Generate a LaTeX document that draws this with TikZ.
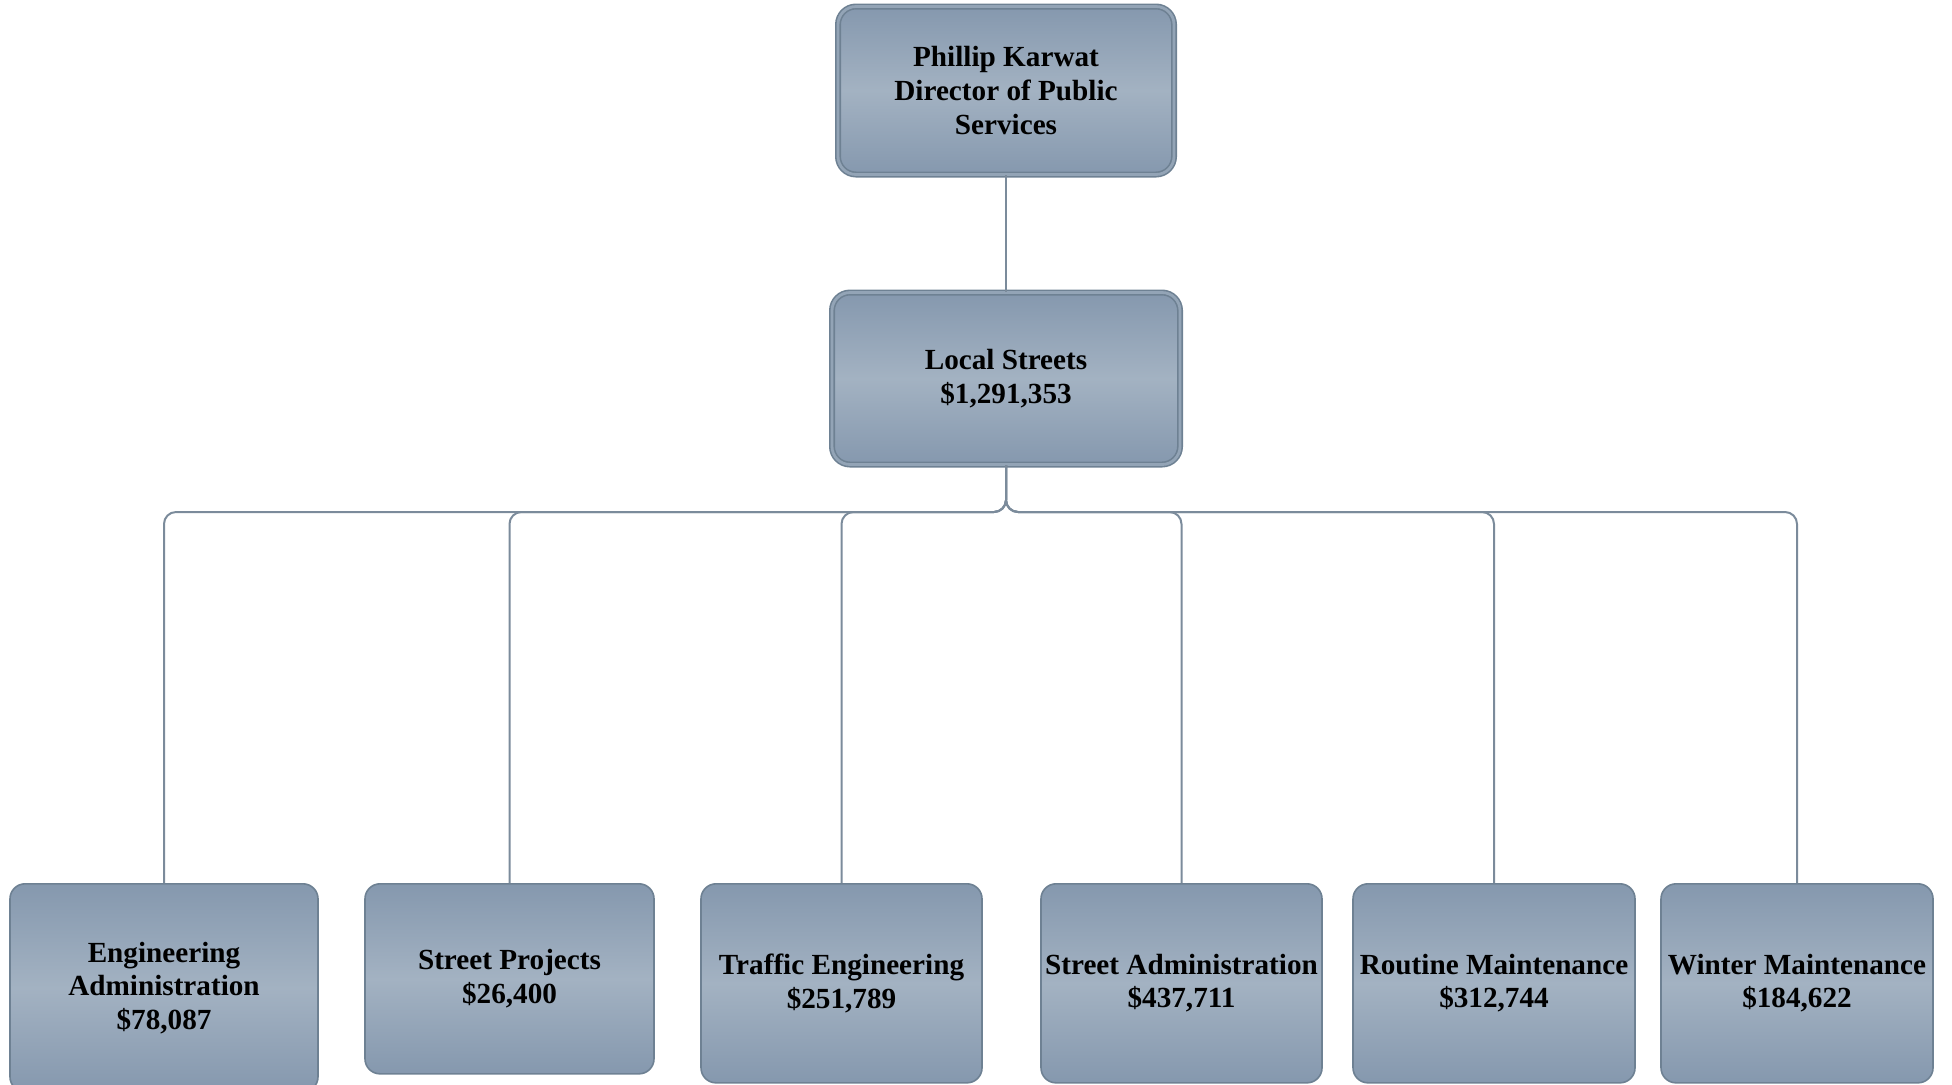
\documentclass[tikz,border=0pt]{standalone}
\usepackage{fontspec}
\setmainfont{Liberation Serif}
\definecolor{boxtop}{HTML}{8598AE}
\definecolor{boxmid}{HTML}{A3B2C2}
\definecolor{boxedge}{HTML}{6E8193}
\definecolor{boxdouble}{HTML}{93A4B6}
\definecolor{linec}{HTML}{7B8B9B}
\tikzset{
  orgbox/.style={rectangle, rounded corners=7.5pt, draw=boxedge, line width=0.8pt,
    top color=boxtop, bottom color=boxtop, middle color=boxmid,
    inner sep=0pt, align=center, font=\fontsize{14.6}{16.8}\selectfont\bfseries},
  headbox/.style={orgbox, rounded corners=9pt, line width=0.8pt, double=boxdouble, double distance=1.4pt},
  conn/.style={draw=linec, line width=1pt, rounded corners=6pt}
}
\begin{document}
\begin{tikzpicture}[x=0.5pt,y=-0.5pt]
\useasboundingbox (0,0) rectangle (1952,1084);
\clip (0,0) rectangle (1952,1084);
% head boxes
\node[headbox, minimum width=168pt, minimum height=84pt] (dir) at (1006,90.5)
  {Phillip Karwat\\Director of Public\\Services};
\node[headbox, minimum width=174pt, minimum height=86pt] (ls) at (1006,378.5)
  {Local Streets\\\$1,291,353};
% bus coordinate
\coordinate (bus) at (1006,512);
% children (top edge at 883)
\node[orgbox, minimum width=154pt, minimum height=104pt, anchor=north] (c1) at (164,883)
  {Engineering\\Administration\\\$78,087};
\node[orgbox, minimum width=144.5pt, minimum height=95pt, anchor=north] (c2) at (509.5,883)
  {Street Projects\\\$26,400};
\node[orgbox, minimum width=140.5pt, minimum height=99.5pt, anchor=north] (c3) at (841.5,883)
  {Traffic Engineering\\\$251,789};
\node[orgbox, minimum width=140.5pt, minimum height=99.5pt, anchor=north] (c4) at (1181.5,883)
  {Street Administration\\\$437,711};
\node[orgbox, minimum width=141pt, minimum height=99.5pt, anchor=north] (c5) at (1494,883)
  {Routine Maintenance\\\$312,744};
\node[orgbox, minimum width=136pt, minimum height=99.5pt, anchor=north] (c6) at (1797,883)
  {Winter Maintenance\\\$184,622};
% connectors
\draw[conn] (dir.south) -- (ls.north);
\foreach \c in {c1,c2,c3,c4,c5,c6}{
  \draw[conn] (ls.south) -- (bus) -| (\c.north);
}
\end{tikzpicture}
\end{document}
